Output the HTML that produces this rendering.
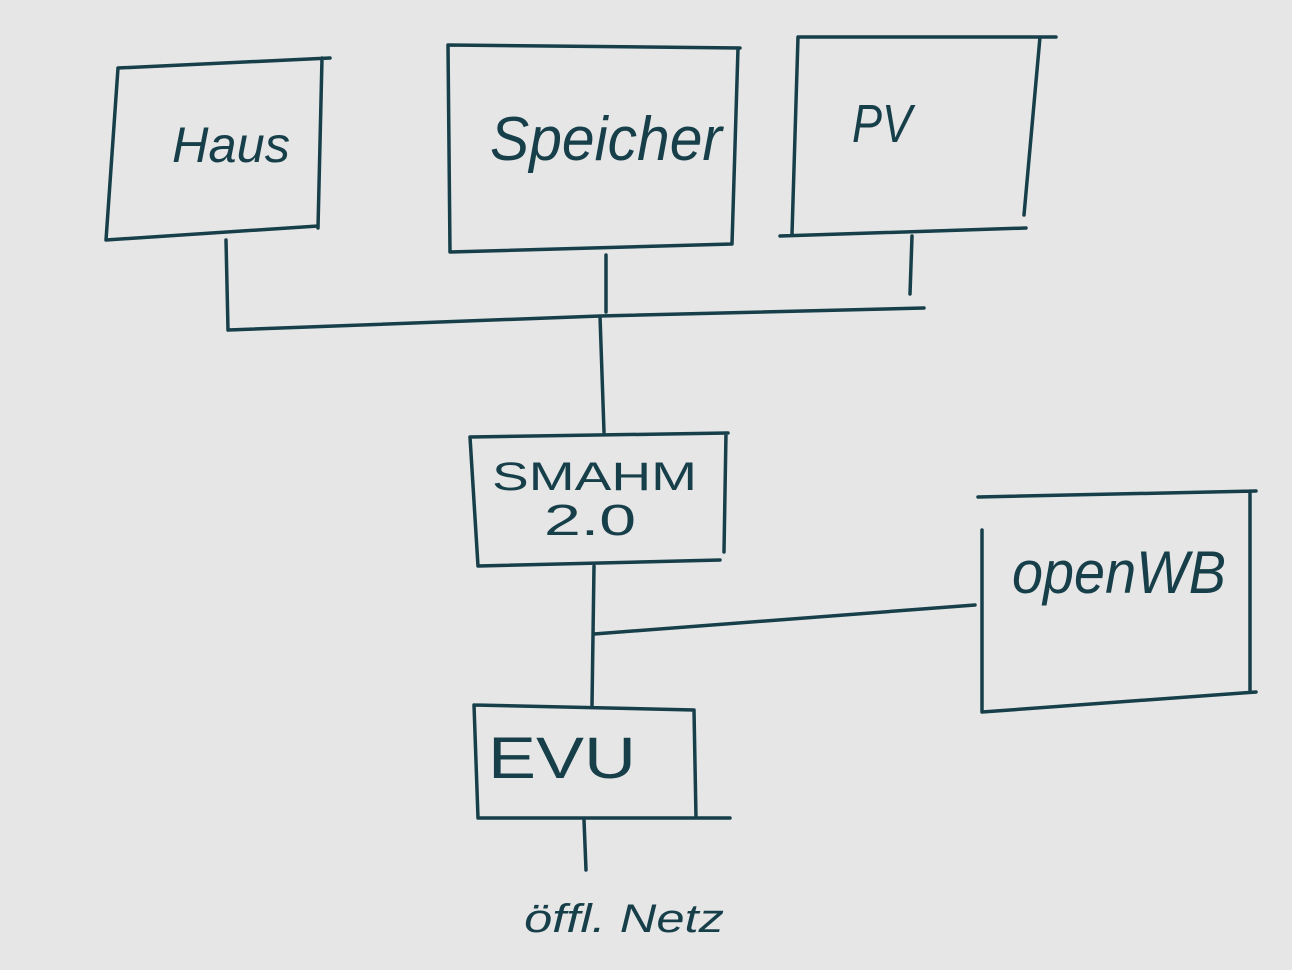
<!DOCTYPE html>
<html><head><meta charset="utf-8"><style>
html,body{margin:0;padding:0;background:#e6e6e6;}
svg{display:block}
text{font-family:"Liberation Sans",sans-serif;fill:#173f4a;}
</style></head><body>
<svg width="1292" height="970" viewBox="0 0 1292 970" xmlns="http://www.w3.org/2000/svg">
<rect width="1292" height="970" fill="#e6e6e6"/>
<g stroke="#173f4a" stroke-width="3.5" fill="none" stroke-linecap="round">
<!-- Haus -->
<path d="M118 68 L330 58 M118 68 L106 240 M106 240 L318 226 M322 58 L318 228"/>
<!-- Speicher -->
<path d="M448 45 L740 48 M448 45 L450 252 M450 252 L732 244 M738 48 L732 244"/>
<!-- PV -->
<path d="M798 37 L1056 37 M798 37 L792 234 M780 236 L1026 228 M1040 37 L1024 215"/>
<!-- connectors top -->
<path d="M226 240 L228 330 M228 330 L600 316 L924 308 M606 255 L606 312 M912 236 L910 294 M600 316 L604 432"/>
<!-- SMA -->
<path d="M470 437 L728 433 M470 437 L478 566 M478 566 L720 560 M726 433 L724 552"/>
<!-- to EVU and openWB -->
<path d="M594 566 L592 705 M594 634 L975 605"/>
<!-- openWB -->
<path d="M978 497 L1256 491 M982 530 L982 712 M982 712 L1256 692 M1250 491 L1250 690"/>
<!-- EVU -->
<path d="M474 705 L694 710 M474 705 L478 818 M478 818 L730 818 M694 710 L696 818"/>
<path d="M584 820 L586 870"/>
</g>
<text x="172" y="162" font-size="50" font-style="italic" textLength="118" lengthAdjust="spacingAndGlyphs">Haus</text>
<text x="490" y="160" font-size="62" font-style="italic" textLength="232" lengthAdjust="spacingAndGlyphs">Speicher</text>
<text x="852" y="142" font-size="54" font-style="italic" textLength="60" lengthAdjust="spacingAndGlyphs">PV</text>
<text x="492" y="490" font-size="40" textLength="205" lengthAdjust="spacingAndGlyphs">SMAHM</text>
<text x="544" y="535" font-size="44" textLength="92" lengthAdjust="spacingAndGlyphs">2.0</text>
<text x="1012" y="593" font-size="60" font-style="italic" textLength="214" lengthAdjust="spacingAndGlyphs">openWB</text>
<text x="488" y="778" font-size="58" textLength="148" lengthAdjust="spacingAndGlyphs">EVU</text>
<text x="524" y="932" font-size="40" font-style="italic" textLength="200" lengthAdjust="spacingAndGlyphs">öffl. Netz</text>
</svg>
</body></html>
